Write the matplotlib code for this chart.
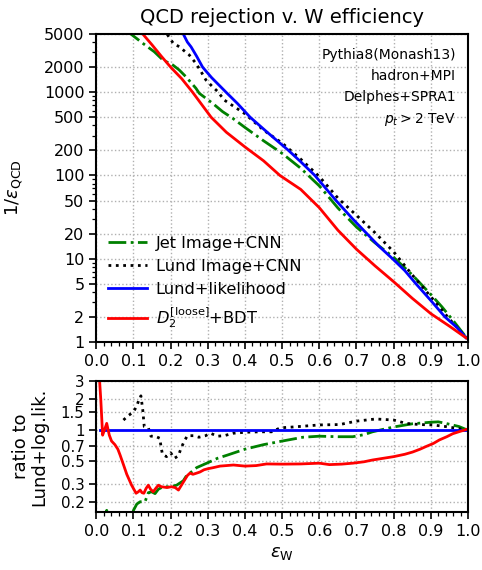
import numpy as np
import matplotlib
matplotlib.use("Agg")
import matplotlib.pyplot as plt
from matplotlib.ticker import FixedLocator, FixedFormatter, MultipleLocator, NullLocator, NullFormatter, LogLocator

# ---------------- data ----------------
# Top panel: 1/eps_QCD versus eps_W
blue_eff = [0.225, 0.234, 0.245, 0.255, 0.27, 0.286, 0.31, 0.349, 0.38, 0.414, 0.46, 0.517,
            0.55, 0.588, 0.645, 0.69, 0.728, 0.76, 0.797, 0.83, 0.86, 0.9, 0.938, 0.97, 0.995]
blue_rej = [6500, 5000, 4000, 3500, 2700, 2000, 1500, 1000, 730, 500, 330, 200,
            146, 100, 50, 30, 20, 14.2, 10, 7.2, 5, 3.15, 2, 1.5, 1.12]

black_eff = [0.185, 0.192, 0.207, 0.223, 0.25, 0.268, 0.282, 0.295, 0.313, 0.327, 0.344, 0.4,
             0.45, 0.5, 0.55, 0.6, 0.65, 0.7, 0.75, 0.8, 0.85, 0.9, 0.95, 0.995]
black_rej = [6000, 4860, 3870, 3520, 2800, 2220, 1760, 1400, 1160, 1015, 806, 550,
             350, 245, 157, 97, 53.5, 33.2, 20.5, 12.1, 6.4, 3.5, 1.89, 1.13]

green_eff = [0.085, 0.093, 0.125, 0.156, 0.179, 0.206, 0.223, 0.241, 0.268, 0.277, 0.313, 0.34,
             0.367, 0.4, 0.45, 0.5, 0.55, 0.6, 0.65, 0.7, 0.75, 0.8, 0.85, 0.9, 0.93, 0.96, 0.995]
green_rej = [6000, 5000, 3870, 3060, 2440, 2120, 1850, 1535, 1115, 970, 735, 583,
             486, 377, 261, 184, 122, 75, 40.7, 24, 15.5, 10.4, 6.4, 3.72, 2.64, 1.81, 1.14]

red_eff = [0.115, 0.125, 0.15, 0.175, 0.2, 0.23, 0.259, 0.309, 0.35, 0.4, 0.45, 0.494, 0.55,
           0.6, 0.65, 0.7, 0.75, 0.8, 0.85, 0.9, 0.95, 0.995]
red_rej = [6200, 5000, 3700, 2700, 2000, 1450, 1000, 500, 330, 220, 150, 100, 68,
           41, 22, 13, 8.2, 5.3, 3.35, 2.19, 1.55, 1.12]

# Bottom panel: ratio to Lund+likelihood
red_ratio_eff = [0.005, 0.012, 0.017, 0.022, 0.028, 0.035, 0.041, 0.05, 0.058, 0.064, 0.073, 0.082,
                 0.095, 0.107, 0.113, 0.118, 0.123, 0.128, 0.134, 0.14, 0.146, 0.153, 0.16, 0.167,
                 0.175, 0.19, 0.202, 0.212, 0.221, 0.234, 0.245, 0.252, 0.26, 0.27, 0.279, 0.29,
                 0.301, 0.315, 0.333, 0.35, 0.369, 0.385, 0.4, 0.43, 0.458, 0.5, 0.55, 0.6, 0.627,
                 0.66, 0.69, 0.72, 0.743, 0.772, 0.8, 0.83, 0.851, 0.871, 0.887, 0.907, 0.923,
                 0.943, 0.959, 0.979, 0.995]
red_ratio = [5.0, 2.0, 0.89, 1.0, 1.16, 0.89, 0.78, 0.72, 0.65, 0.57, 0.46, 0.37,
             0.29, 0.242, 0.25, 0.26, 0.245, 0.242, 0.27, 0.29, 0.265, 0.25, 0.27, 0.29,
             0.28, 0.275, 0.28, 0.275, 0.26, 0.31, 0.36, 0.38, 0.37, 0.38, 0.39, 0.41,
             0.42, 0.43, 0.445, 0.45, 0.456, 0.45, 0.445, 0.45, 0.467, 0.465, 0.467, 0.475, 0.46,
             0.465, 0.475, 0.49, 0.51, 0.53, 0.55, 0.58, 0.61, 0.65, 0.69, 0.74, 0.8,
             0.86, 0.92, 0.97, 1.01]

green_ratio_eff = [0.02, 0.028, 0.035, 0.09, 0.1, 0.109, 0.118, 0.131, 0.14, 0.149, 0.158, 0.167,
                   0.18, 0.2, 0.216, 0.234, 0.243, 0.252, 0.27, 0.3, 0.326, 0.353, 0.4, 0.45,
                   0.5, 0.556, 0.6, 0.65, 0.69, 0.72, 0.743, 0.8, 0.851, 0.9, 0.92, 0.94, 0.976, 0.995]
green_ratio = [0.12, 0.165, 0.12, 0.12, 0.165, 0.19, 0.2, 0.2, 0.245, 0.25, 0.24, 0.265,
               0.28, 0.28, 0.29, 0.32, 0.36, 0.38, 0.43, 0.48, 0.53, 0.57, 0.65, 0.72,
               0.78, 0.85, 0.87, 0.86, 0.86, 0.9, 0.96, 1.07, 1.15, 1.19, 1.2, 1.16, 1.08, 1.01]

black_ratio_eff = [0.073, 0.086, 0.1, 0.109, 0.116, 0.12, 0.125, 0.129, 0.14, 0.147, 0.158, 0.171,
                   0.174, 0.178, 0.189, 0.2, 0.21, 0.221, 0.227, 0.236, 0.245, 0.261, 0.276, 0.294,
                   0.307, 0.326, 0.344, 0.369, 0.4, 0.44, 0.472, 0.495, 0.53, 0.6, 0.655, 0.7,
                   0.752, 0.8, 0.833, 0.869, 0.905, 0.94, 0.976, 0.995]
black_ratio = [1.25, 1.38, 1.5, 1.72, 2.03, 2.15, 1.57, 1.08, 1.05, 0.87, 0.87, 0.83,
               0.69, 0.58, 0.55, 0.6, 0.53, 0.56, 0.65, 0.77, 0.88, 0.88, 0.85, 0.88,
               0.93, 0.87, 0.88, 0.93, 0.95, 0.96, 0.96, 1.05, 1.07, 1.12, 1.13, 1.22,
               1.28, 1.25, 1.16, 1.13, 1.12, 1.08, 1.03, 1.0]

blue_ratio_eff = [0.01, 0.995]
blue_ratio = [1.0, 1.0]

labels = ["Jet Image+CNN", "Lund Image+CNN", "Lund+likelihood", r"$D_2^{[\rm loose]}$+BDT"]
top_yticks = [1, 2, 5, 10, 20, 50, 100, 200, 500, 1000, 2000, 5000]
bot_yticks = [0.2, 0.3, 0.5, 0.7, 1, 1.5, 2, 3]
bot_yticklabels = ["0.2", "0.3", "0.5", "0.7", "1", "1.5", "2", "3"]
annot_lines = ["Pythia8(Monash13)", "hadron+MPI", "Delphes+SPRA1", r"$p_t > 2$ TeV"]

# ---------------- figure ----------------
W, H = 482, 570
fig = plt.figure(figsize=(W / 100, H / 100), dpi=100)
ax1 = fig.add_axes([96.3 / W, 1 - 342 / H, 371.7 / W, 308 / H])
ax2 = fig.add_axes([96.3 / W, 1 - 511.7 / H, 371.7 / W, 130.7 / H])

lw = 2.0
green_kw = dict(color="green", ls="-.", lw=lw)
black_kw = dict(color="black", ls=":", lw=lw)
blue_kw = dict(color="blue", ls="-", lw=lw)
red_kw = dict(color="red", ls="-", lw=lw)

ax1.plot(green_eff, green_rej, label=labels[0], **green_kw)
ax1.plot(black_eff, black_rej, label=labels[1], **black_kw)
ax1.plot(blue_eff, blue_rej, label=labels[2], **blue_kw)
ax1.plot(red_eff, red_rej, label=labels[3], **red_kw)

ax2.plot(green_ratio_eff, green_ratio, **green_kw)
ax2.plot(black_ratio_eff, black_ratio, **black_kw)
ax2.plot(blue_ratio_eff, blue_ratio, **blue_kw)
ax2.plot(red_ratio_eff, red_ratio, **red_kw)

fs_tick = 11.5
grid_kw = dict(color="#b0b0b0", ls=":", lw=1.0)

for ax in (ax1, ax2):
    ax.set_xlim(0, 1)
    ax.set_yscale("log")
    ax.xaxis.set_major_locator(MultipleLocator(0.1))
    ax.xaxis.set_minor_locator(MultipleLocator(0.02))
    ax.tick_params(axis="both", which="major", direction="out", length=5, width=1.2,
                   labelsize=fs_tick)
    ax.tick_params(axis="both", which="minor", direction="out", length=3, width=0.9)
    ax.grid(True, which="major", **grid_kw)
    for sp in ax.spines.values():
        sp.set_linewidth(1.5)

ax1.set_ylim(1, 5000)
ax1.yaxis.set_major_locator(FixedLocator(top_yticks))
ax1.yaxis.set_major_formatter(FixedFormatter([str(t) for t in top_yticks]))
ax1.yaxis.set_minor_locator(LogLocator(base=10, subs=np.arange(2, 10)))
ax1.yaxis.set_minor_formatter(NullFormatter())
ax1.xaxis.set_major_formatter(plt.FuncFormatter(lambda v, p: f"{v:.1f}"))
ax1.set_ylabel(r"$1/\varepsilon_{\rm QCD}$", fontsize=13)
ax1.yaxis.set_label_coords(-0.192, 0.5)
ax1.set_title("QCD rejection v. W efficiency", fontsize=14, pad=8)

ax2.set_ylim(0.16, 3)
ax2.yaxis.set_major_locator(FixedLocator(bot_yticks))
ax2.yaxis.set_major_formatter(FixedFormatter(bot_yticklabels))
ax2.yaxis.set_minor_locator(NullLocator())
ax2.tick_params(axis="y", which="major", labelsize=10.8)
ax2.xaxis.set_major_formatter(plt.FuncFormatter(lambda v, p: f"{v:.1f}"))
ax2.set_ylabel("ratio to\nLund+log.lik.", fontsize=13, linespacing=1.0)
ax2.yaxis.set_label_coords(-0.13, 0.5)
ax2.set_xlabel(r"$\varepsilon_{\rm W}$", fontsize=13)

ax1.legend(loc="lower left", bbox_to_anchor=(0.0, 0.0), frameon=False, fontsize=11.7,
           handlelength=2.4, handletextpad=0.5, labelspacing=0.5, borderaxespad=0.35)

ax1.text(0.968, 0.955, "\n".join(annot_lines), transform=ax1.transAxes, ha="right", va="top",
         fontsize=10, linespacing=1.62)

fig.savefig("out.png", dpi=100)
